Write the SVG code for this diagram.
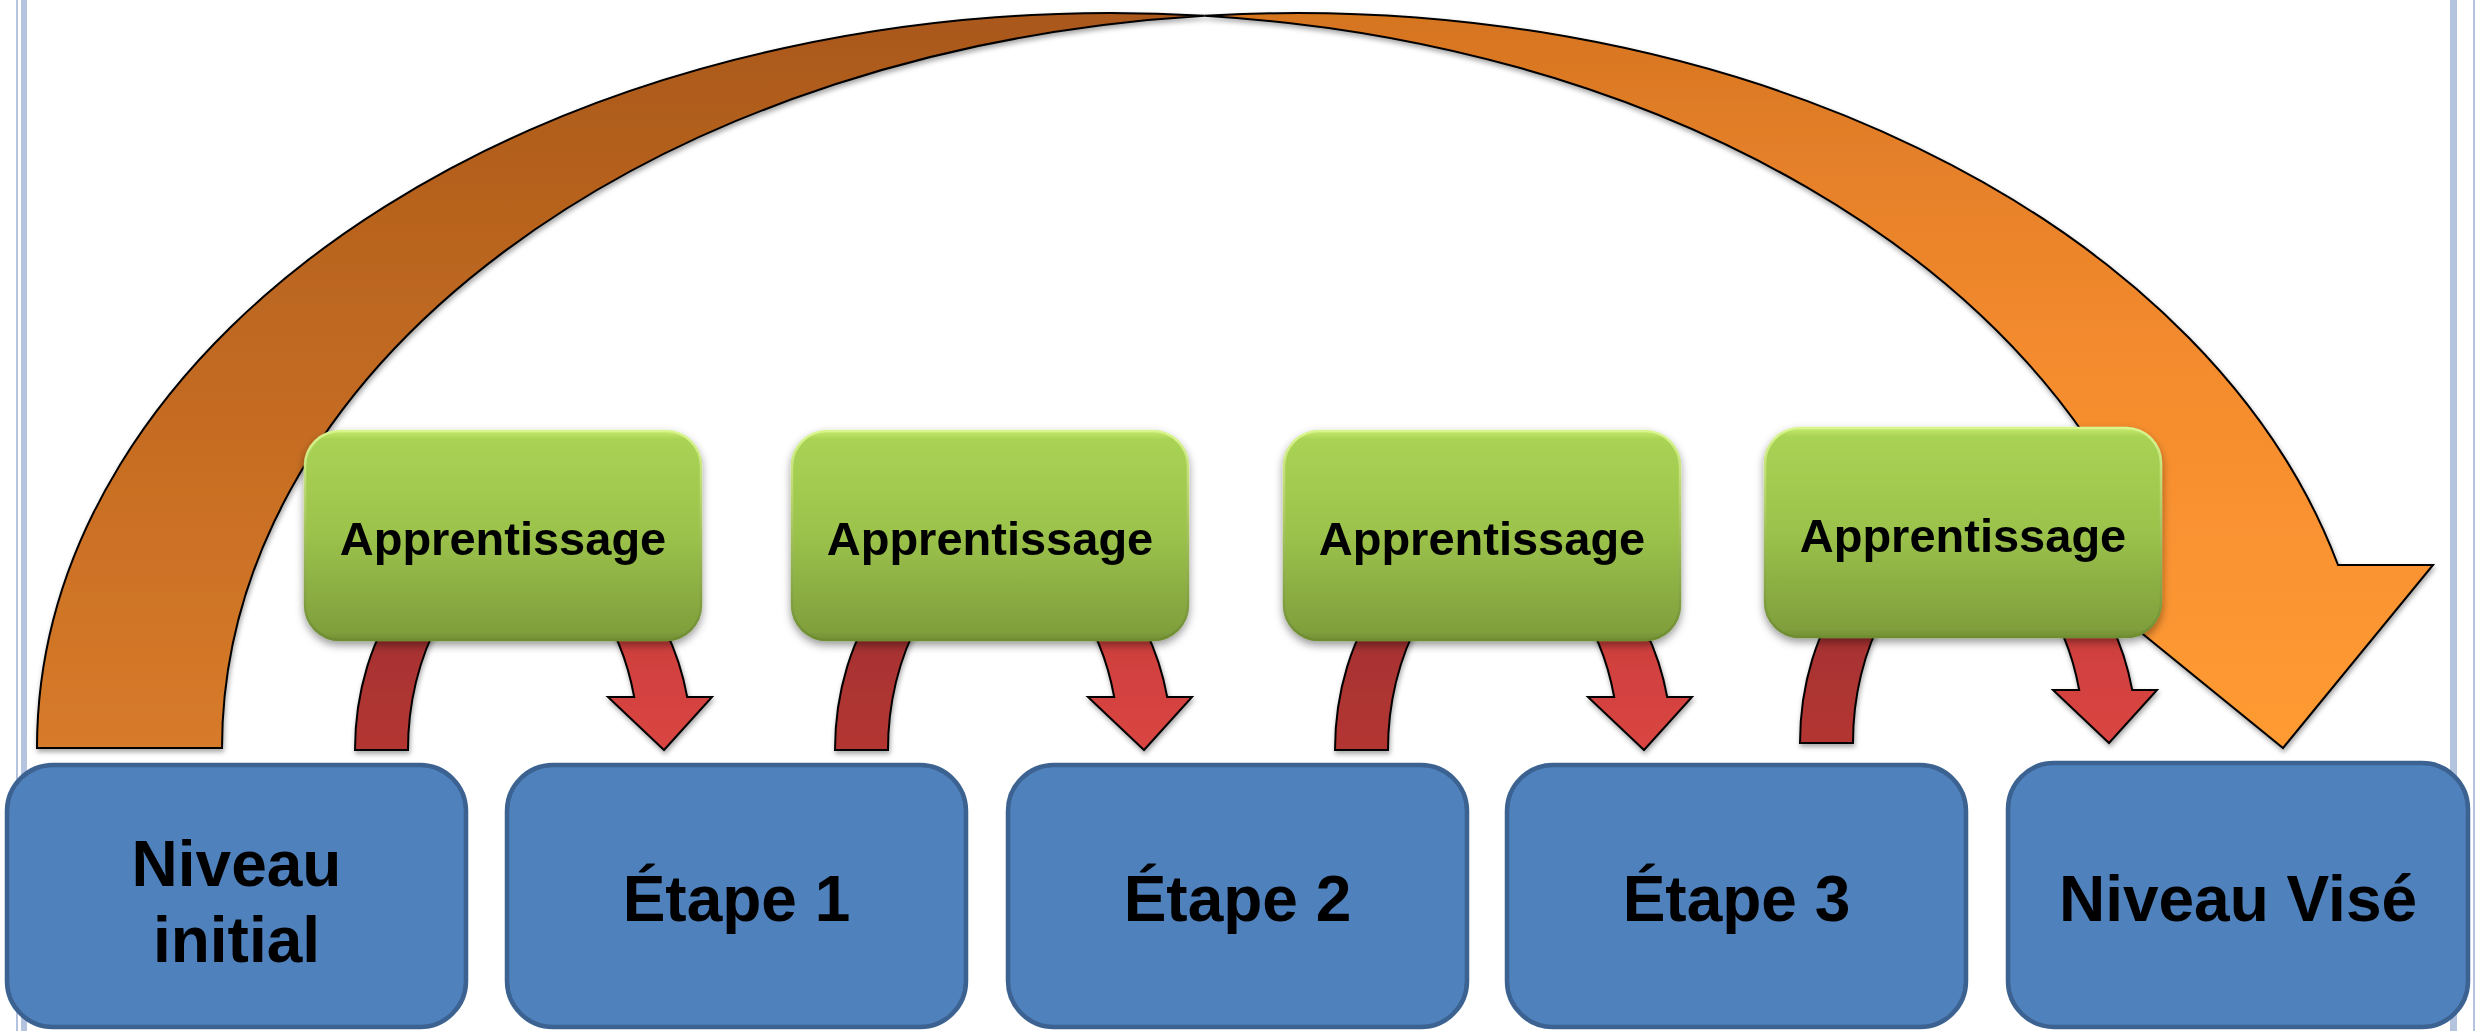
<svg xmlns="http://www.w3.org/2000/svg" xmlns:xlink="http://www.w3.org/1999/xlink" width="2483" height="1031" viewBox="0 0 2483 1031">
  <defs>
    <style>
      .lbl{font-family:"Liberation Sans",Arial,sans-serif;font-weight:bold;fill:#000;text-anchor:middle}
      .big{font-size:64px}
      .small{font-size:47px}
      .blue{fill:#4F81BD;stroke:#3B6290;stroke-width:4.5}
      .green{fill:url(#gGreen);stroke:url(#gGreenEdge);stroke-width:2.5}
      .edge{stroke:#000;stroke-width:2;stroke-linejoin:miter}
      .frame{fill:#B4C3DE}
    </style>
    <linearGradient id="gOrange" gradientUnits="userSpaceOnUse" x1="0" y1="13" x2="0" y2="748">
      <stop offset="0" stop-color="#D5741F"/>
      <stop offset="0.2" stop-color="#E5802A"/>
      <stop offset="0.5" stop-color="#F58C2E"/>
      <stop offset="1" stop-color="#FF9B33"/>
    </linearGradient>
    <linearGradient id="gOrangeDark" gradientUnits="userSpaceOnUse" x1="0" y1="13" x2="0" y2="748">
      <stop offset="0" stop-color="#AA581C"/>
      <stop offset="0.3" stop-color="#B9641F"/>
      <stop offset="0.65" stop-color="#C96F24"/>
      <stop offset="1" stop-color="#D77B2A"/>
    </linearGradient>
    <linearGradient id="gRed" x1="0" y1="0" x2="0" y2="1">
      <stop offset="0" stop-color="#C23C39"/>
      <stop offset="1" stop-color="#DA4542"/>
    </linearGradient>
    <linearGradient id="gRedDark" x1="0" y1="0" x2="0" y2="1">
      <stop offset="0" stop-color="#9C2F2D"/>
      <stop offset="1" stop-color="#B33633"/>
    </linearGradient>
    <linearGradient id="gGreen" x1="0" y1="0" x2="0" y2="1">
      <stop offset="0" stop-color="#C6EA6E"/>
      <stop offset="0.04" stop-color="#A9D354"/>
      <stop offset="0.5" stop-color="#9BC24B"/>
      <stop offset="0.96" stop-color="#809F3C"/>
      <stop offset="1" stop-color="#738F35"/>
    </linearGradient>
    <linearGradient id="gGreenEdge" x1="0" y1="0" x2="0" y2="1">
      <stop offset="0" stop-color="#D9F58E"/>
      <stop offset="1" stop-color="#6E8C32"/>
    </linearGradient>
    <filter id="shadow" x="-10%" y="-10%" width="120%" height="130%">
      <feDropShadow dx="1" dy="3" stdDeviation="2.5" flood-color="#000" flood-opacity="0.35"/>
    </filter>
    <filter id="shadowBox" x="-10%" y="-10%" width="120%" height="130%">
      <feDropShadow dx="0" dy="4" stdDeviation="4" flood-color="#000" flood-opacity="0.4"/>
    </filter>
    <g id="redArrow" filter="url(#shadow)">
      <path class="edge" fill="url(#gRedDark)" d="M 355 750 A 142 205.6 0 0 1 523.5 548 A 142 205.6 0 0 0 408 750 Z"/>
      <path class="edge" fill="url(#gRed)" d="M 523.5 548 A 142 205.6 0 0 1 687.2 697 L 712 697 L 664 750 L 608 697 L 634.2 697 A 142 205.6 0 0 0 523.5 548 Z"/>
    </g>
  </defs>

  <rect width="2483" height="1031" fill="#FFFFFF"/>

  <g id="frame">
    <rect class="frame" x="16" y="0" width="2" height="1031"/>
    <rect class="frame" x="21" y="0" width="6" height="1031"/>
    <rect class="frame" x="2450" y="0" width="7" height="1031"/>
    <rect class="frame" x="2473" y="0" width="2" height="1031"/>
  </g>

  <g id="connectors">
    <g id="big-arrow" filter="url(#shadow)">
      <path class="edge" fill="url(#gOrangeDark)" d="M 37 748 A 1075 735 0 0 1 1204.5 15.7 A 1075 735 0 0 0 222 748 Z"/>
      <path class="edge" fill="url(#gOrange)" d="M 1204.5 15.7 A 1075 735 0 0 1 2338 565 L 2433 565 L 2283 748 L 2058 565 L 2153 565 A 1075 735 0 0 0 1204.5 15.7 Z"/>
    </g>
    <use id="red-arrow-1" xlink:href="#redArrow" href="#redArrow" transform="translate(0,0)"/>
    <use id="red-arrow-2" xlink:href="#redArrow" href="#redArrow" transform="translate(480,0)"/>
    <use id="red-arrow-3" xlink:href="#redArrow" href="#redArrow" transform="translate(980,0)"/>
    <use id="red-arrow-4" xlink:href="#redArrow" href="#redArrow" transform="translate(1445,-7)"/>
  </g>

  <g id="apprentissage-1" filter="url(#shadowBox)">
    <rect class="green" x="305" y="431" width="396" height="209" rx="35"/>
    <text class="lbl small" x="503" y="555">Apprentissage</text>
  </g>
  <g id="apprentissage-2" filter="url(#shadowBox)">
    <rect class="green" x="792" y="431" width="396" height="209" rx="35"/>
    <text class="lbl small" x="990" y="555">Apprentissage</text>
  </g>
  <g id="apprentissage-3" filter="url(#shadowBox)">
    <rect class="green" x="1284" y="431" width="396" height="209" rx="35"/>
    <text class="lbl small" x="1482" y="555">Apprentissage</text>
  </g>
  <g id="apprentissage-4" filter="url(#shadowBox)">
    <rect class="green" x="1765" y="428" width="396" height="209" rx="35"/>
    <text class="lbl small" x="1963" y="552">Apprentissage</text>
  </g>

  <g id="niveau-initial">
    <rect class="blue" x="7" y="765" width="459" height="262" rx="46"/>
    <text class="lbl big" x="236.5" y="886">Niveau</text>
    <text class="lbl big" x="236.5" y="962">initial</text>
  </g>
  <g id="etape-1">
    <rect class="blue" x="507" y="765" width="459" height="262" rx="46"/>
    <text class="lbl big" x="736.5" y="921">Étape 1</text>
  </g>
  <g id="etape-2">
    <rect class="blue" x="1008" y="765" width="459" height="262" rx="46"/>
    <text class="lbl big" x="1237.5" y="921">Étape 2</text>
  </g>
  <g id="etape-3">
    <rect class="blue" x="1507" y="765" width="459" height="262" rx="46"/>
    <text class="lbl big" x="1736.5" y="921">Étape 3</text>
  </g>
  <g id="niveau-vise">
    <rect class="blue" x="2008" y="763" width="460" height="264" rx="46"/>
    <text class="lbl big" x="2238" y="921">Niveau Visé</text>
  </g>
</svg>
